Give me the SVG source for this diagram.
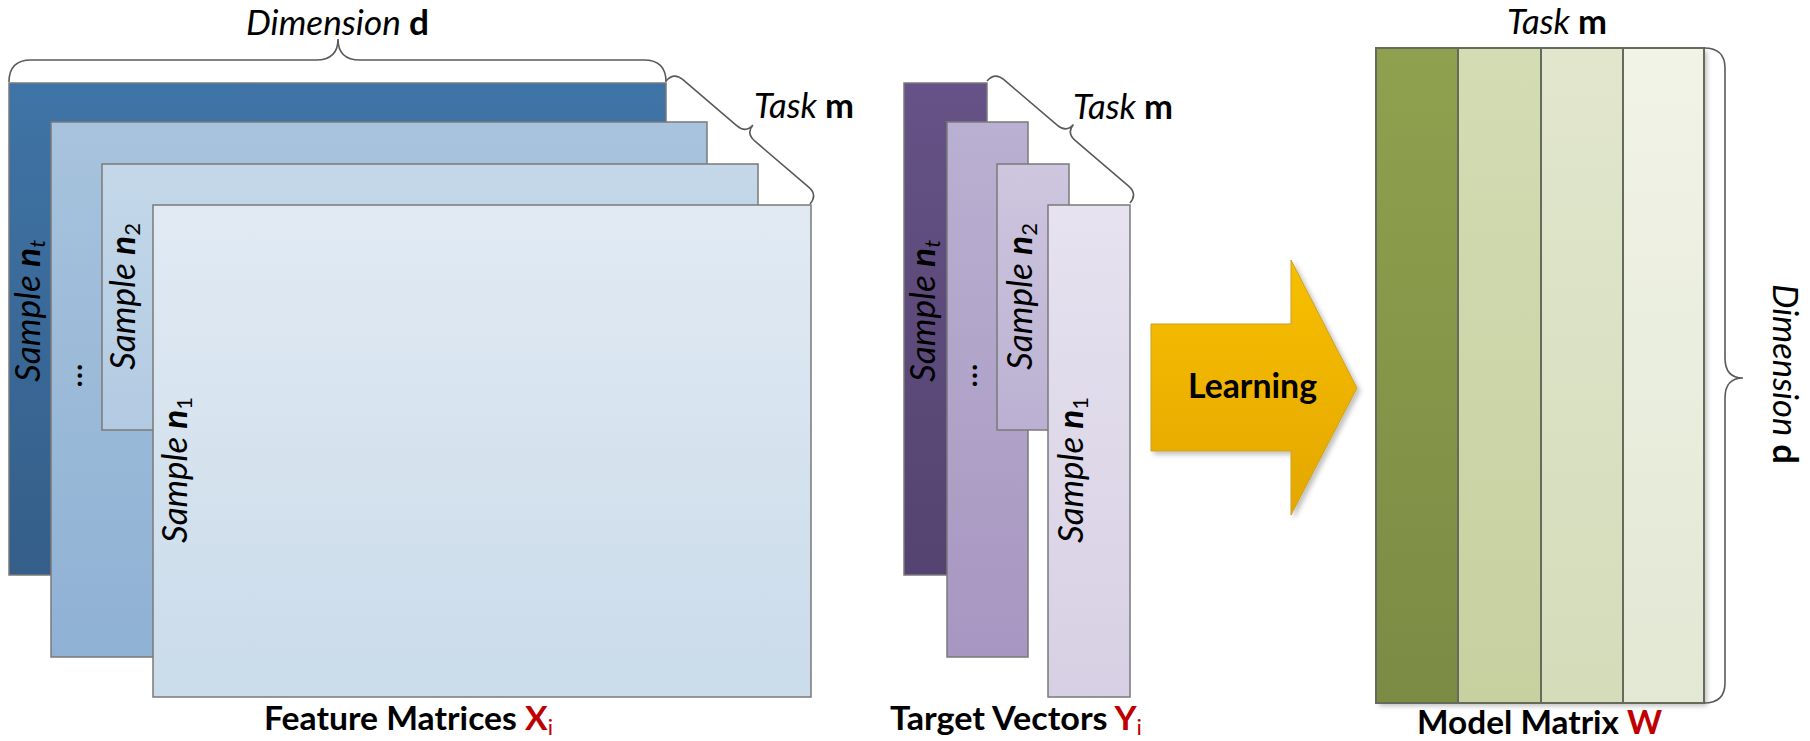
<svg xmlns="http://www.w3.org/2000/svg" width="1810" height="741" viewBox="0 0 1810 741">
<defs>
<linearGradient id="gB1" x1="0" y1="0" x2="0" y2="1"><stop offset="0" stop-color="#3f74a6"/><stop offset="1" stop-color="#355e89"/></linearGradient>
<linearGradient id="gB2" x1="0" y1="0" x2="0" y2="1"><stop offset="0" stop-color="#a7c3dd"/><stop offset="1" stop-color="#8fb1d4"/></linearGradient>
<linearGradient id="gB3" x1="0" y1="0" x2="0" y2="1"><stop offset="0" stop-color="#c4d8e9"/><stop offset="1" stop-color="#b2cae2"/></linearGradient>
<linearGradient id="gB4" x1="0" y1="0" x2="0" y2="1"><stop offset="0" stop-color="#e1eaf3"/><stop offset="1" stop-color="#cadbea"/></linearGradient>
<linearGradient id="gP1" x1="0" y1="0" x2="0" y2="1"><stop offset="0" stop-color="#665286"/><stop offset="1" stop-color="#544370"/></linearGradient>
<linearGradient id="gP2" x1="0" y1="0" x2="0" y2="1"><stop offset="0" stop-color="#bab0d1"/><stop offset="1" stop-color="#a796c1"/></linearGradient>
<linearGradient id="gP3" x1="0" y1="0" x2="0" y2="1"><stop offset="0" stop-color="#cec7df"/><stop offset="1" stop-color="#bbb0d2"/></linearGradient>
<linearGradient id="gP4" x1="0" y1="0" x2="0" y2="1"><stop offset="0" stop-color="#e6e2ef"/><stop offset="1" stop-color="#d7d0e4"/></linearGradient>
<linearGradient id="gG1" x1="0" y1="0" x2="0" y2="1"><stop offset="0" stop-color="#8fa14e"/><stop offset="1" stop-color="#7b8b44"/></linearGradient>
<linearGradient id="gG2" x1="0" y1="0" x2="0" y2="1"><stop offset="0" stop-color="#d3dcb3"/><stop offset="1" stop-color="#c7d09f"/></linearGradient>
<linearGradient id="gG3" x1="0" y1="0" x2="0" y2="1"><stop offset="0" stop-color="#e1e6cd"/><stop offset="1" stop-color="#d4dcba"/></linearGradient>
<linearGradient id="gG4" x1="0" y1="0" x2="0" y2="1"><stop offset="0" stop-color="#f1f3e7"/><stop offset="1" stop-color="#e2e8d4"/></linearGradient>
<linearGradient id="gA" x1="0" y1="0" x2="0" y2="1"><stop offset="0" stop-color="#f7bf00"/><stop offset="1" stop-color="#e4a700"/></linearGradient>
<filter id="sh" x="-10%" y="-10%" width="130%" height="130%"><feDropShadow dx="3" dy="3" stdDeviation="2.5" flood-color="#000" flood-opacity="0.25"/></filter>
</defs>
<style>
.r{stroke:#7a7a7a;stroke-width:1.5}
.g{stroke:#646b5a;stroke-width:2}
.br{fill:none;stroke:#5a5a5a;stroke-width:1.6}
.t{font-family:Lato,"Liberation Sans",sans-serif;font-size:35px;fill:#000}
.lb{font-size:32px}
.it{font-style:italic}
.b{font-weight:bold}
.red{fill:#c00000}
</style>

<g id="feature-matrices">
<rect class="r" x="9" y="83" width="657" height="492" fill="url(#gB1)"/>
<rect class="r" x="51" y="122" width="656" height="535" fill="url(#gB2)"/>
<rect class="r" x="102" y="164" width="656" height="266" fill="url(#gB3)"/>
<rect class="r" x="153" y="205" width="658" height="492" fill="url(#gB4)"/>
<text class="t it" transform="translate(40,382) rotate(-90)" textLength="142" lengthAdjust="spacingAndGlyphs">Sample <tspan class="b">n</tspan><tspan font-size="22" dy="5">t</tspan></text>
<text class="t" transform="translate(82,388) rotate(-90)">...</text>
<text class="t it" transform="translate(135,370) rotate(-90)" textLength="147" lengthAdjust="spacingAndGlyphs">Sample <tspan class="b">n</tspan><tspan font-size="22" dy="5" font-style="normal">2</tspan></text>
<text class="t it" transform="translate(187,543) rotate(-90)" textLength="146" lengthAdjust="spacingAndGlyphs">Sample <tspan class="b">n</tspan><tspan font-size="22" dy="5" font-style="normal">1</tspan></text>
<text class="t b lb" x="264" y="730" textLength="289" lengthAdjust="spacingAndGlyphs">Feature Matrices <tspan class="red">X</tspan><tspan class="red" font-size="21" dy="5" font-weight="normal">i</tspan></text>
</g>

<g id="target-vectors">
<rect class="r" x="904" y="83" width="83" height="492" fill="url(#gP1)"/>
<rect class="r" x="947" y="122" width="81" height="535" fill="url(#gP2)"/>
<rect class="r" x="997" y="164" width="72" height="266" fill="url(#gP3)"/>
<rect class="r" x="1048" y="205" width="82" height="492" fill="url(#gP4)"/>
<text class="t it" transform="translate(935,382) rotate(-90)" textLength="142" lengthAdjust="spacingAndGlyphs">Sample <tspan class="b">n</tspan><tspan font-size="22" dy="5">t</tspan></text>
<text class="t" transform="translate(977,388) rotate(-90)">...</text>
<text class="t it" transform="translate(1032,370) rotate(-90)" textLength="147" lengthAdjust="spacingAndGlyphs">Sample <tspan class="b">n</tspan><tspan font-size="22" dy="5" font-style="normal">2</tspan></text>
<text class="t it" transform="translate(1083,543) rotate(-90)" textLength="146" lengthAdjust="spacingAndGlyphs">Sample <tspan class="b">n</tspan><tspan font-size="22" dy="5" font-style="normal">1</tspan></text>
<text class="t b lb" x="890" y="730" textLength="252" lengthAdjust="spacingAndGlyphs">Target Vectors <tspan class="red">Y</tspan><tspan class="red" font-size="21" dy="5" font-weight="normal">i</tspan></text>
</g>

<g id="learning-arrow">
<path d="M1151,324 L1291,324 L1291,260 L1357,388 L1291,515 L1291,451 L1151,451 Z" fill="url(#gA)" stroke="#c9a227" stroke-width="1" filter="url(#sh)"/>
<text class="t b" x="1188" y="398" textLength="129" lengthAdjust="spacingAndGlyphs">Learning</text>
</g>

<g id="model-matrix">
<g filter="url(#sh)">
<rect x="1376" y="48" width="328" height="655" fill="#fff"/>
</g>
<rect class="g" x="1376" y="48" width="82" height="655" fill="url(#gG1)"/>
<rect class="g" x="1458" y="48" width="83" height="655" fill="url(#gG2)"/>
<rect class="g" x="1541" y="48" width="82" height="655" fill="url(#gG3)"/>
<rect class="g" x="1623" y="48" width="81" height="655" fill="url(#gG4)"/>
<text class="t" x="1507" y="34" font-size="33" textLength="100" lengthAdjust="spacingAndGlyphs"><tspan class="it">Task </tspan><tspan class="b">m</tspan></text>
<text class="t b lb" x="1417" y="734" textLength="245" lengthAdjust="spacingAndGlyphs">Model Matrix <tspan class="red">W</tspan></text>
<text class="t" transform="translate(1773,284) rotate(90)" textLength="180" lengthAdjust="spacingAndGlyphs"><tspan class="it">Dimension </tspan><tspan class="b">d</tspan></text>
</g>

<g id="connectors">
<path class="br" d="M9,82 Q9,60 31,60 L316,60 Q338,60 338,39 Q338,60 360,60 L644,60 Q666,60 666,82"/>
<path class="br" transform="translate(666,81) rotate(40.5)" d="M0,0 Q0,-12 12,-12 L82.7,-12 Q94.7,-12 94.7,-23 Q94.7,-12 106.7,-12 L177.4,-12 Q189.4,-12 189.4,0"/>
<path class="br" transform="translate(987,81) rotate(40.5)" d="M0,0 Q0,-12 12,-12 L82,-12 Q94,-12 94,-23 Q94,-12 106,-12 L176,-12 Q188,-12 188,0"/>
<path class="br" d="M1704,48 Q1725,48 1725,68 L1725,358 Q1725,378 1743,378 Q1725,378 1725,398 L1725,683 Q1725,703 1704,703"/>
</g>

<g id="labels">
<text class="t" x="246" y="35" textLength="183" lengthAdjust="spacingAndGlyphs"><tspan class="it">Dimension </tspan><tspan class="b">d</tspan></text>
<text class="t" x="754" y="118" textLength="100" lengthAdjust="spacingAndGlyphs"><tspan class="it">Task </tspan><tspan class="b">m</tspan></text>
<text class="t" x="1073" y="119" textLength="100" lengthAdjust="spacingAndGlyphs"><tspan class="it">Task </tspan><tspan class="b">m</tspan></text>
</g>
</svg>
